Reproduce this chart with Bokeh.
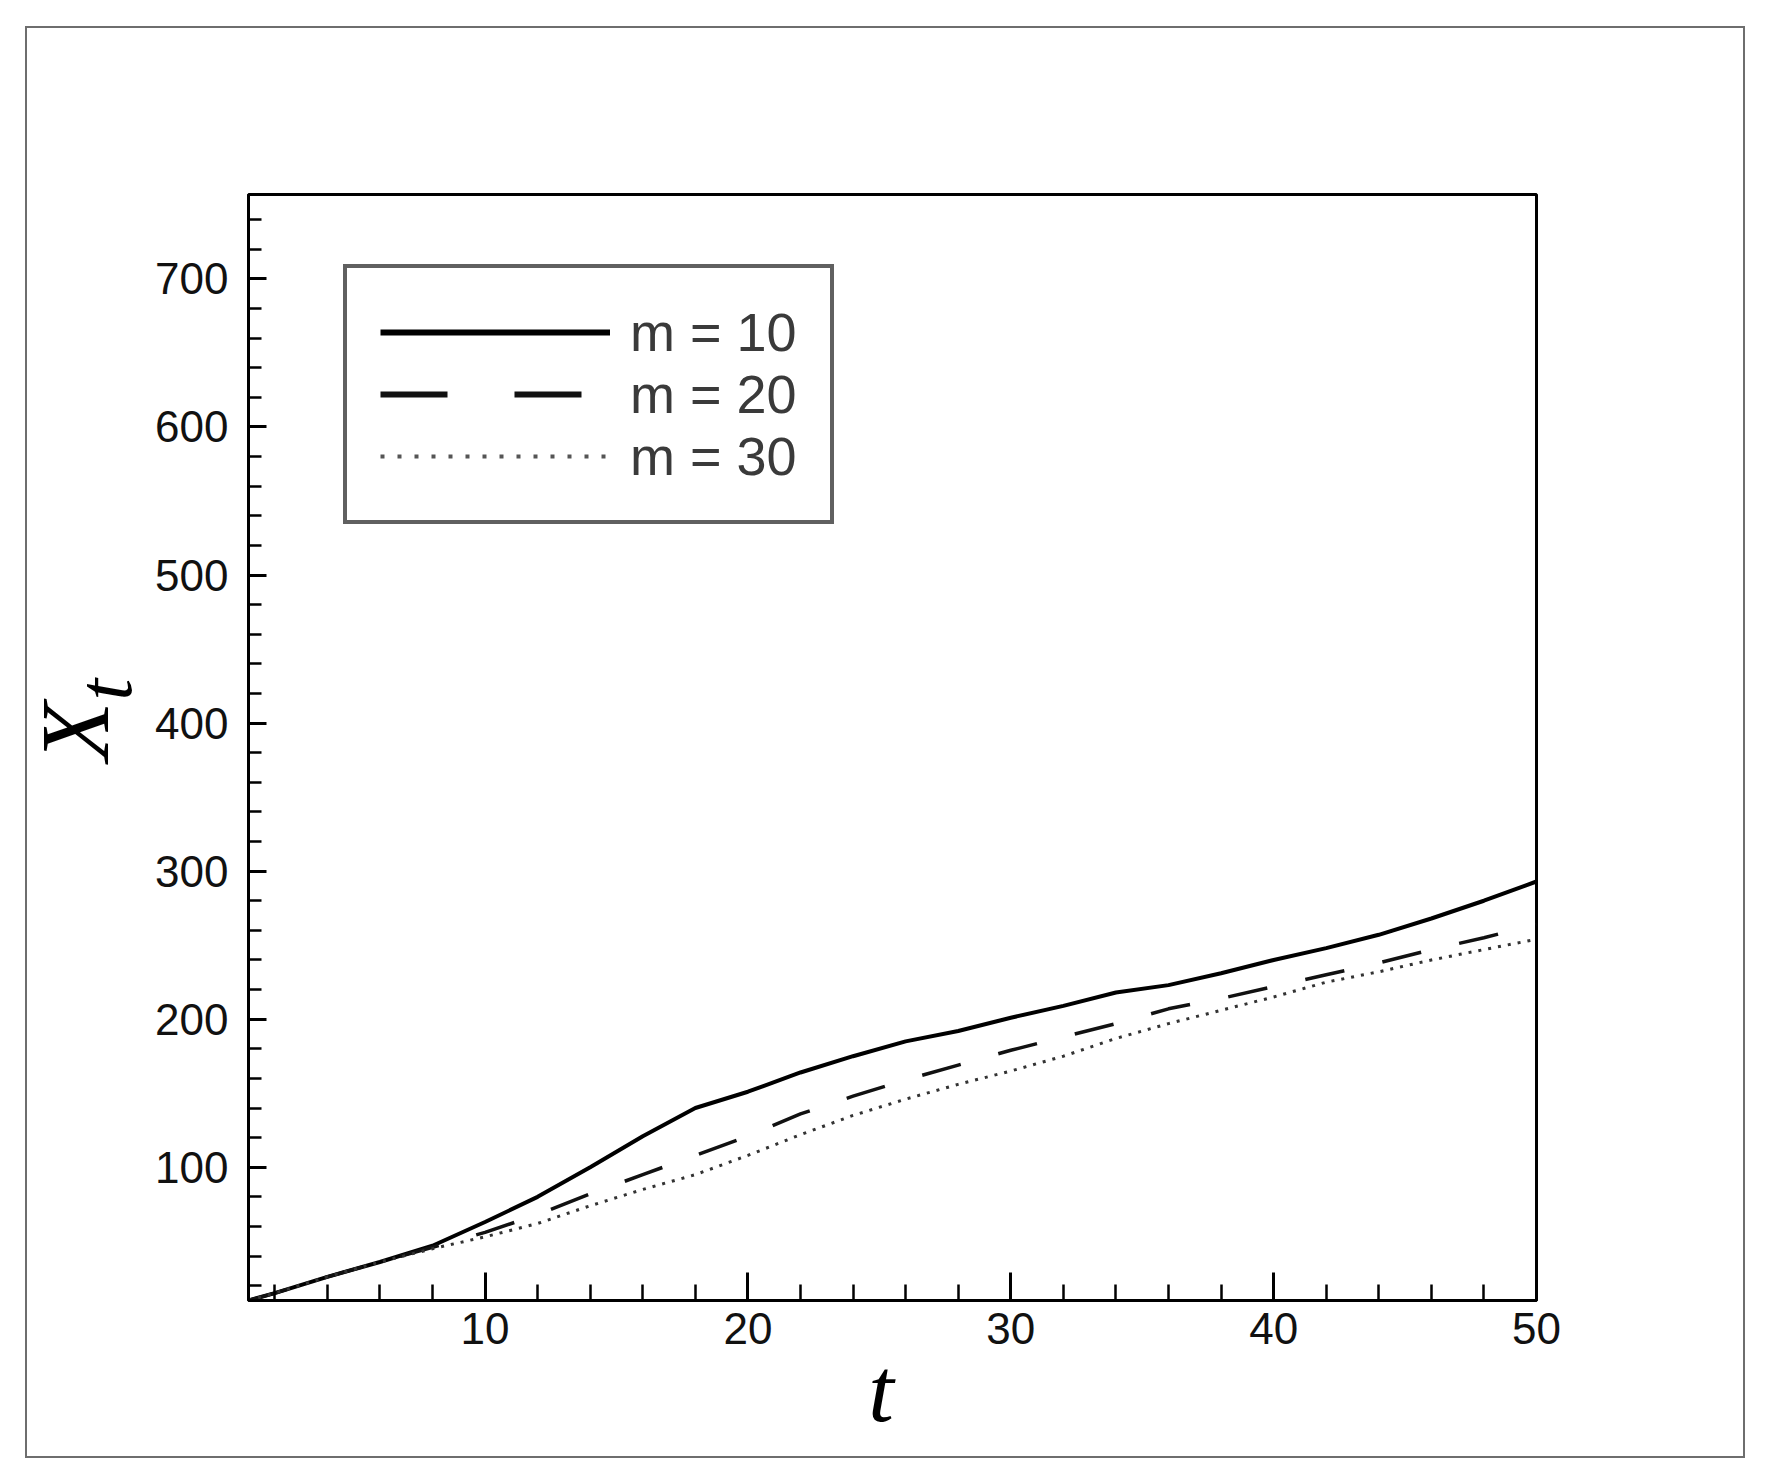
from bokeh.plotting import figure
from bokeh.models import Legend, LegendItem, FixedTicker, Range1d, Title
from bokeh.embed import file_html
from bokeh.resources import INLINE

# ---- data ----
t_vals = [1, 2, 4, 6, 8, 10, 12, 14, 16, 18, 20, 22, 24, 26, 28, 30,
          32, 34, 36, 38, 40, 42, 44, 46, 48, 50]
m10 = [10, 15, 26, 36, 47, 63, 80, 100, 121, 140, 151, 164, 175, 185, 192, 201,
       209, 218, 223, 231, 240, 248, 257, 268, 280, 293]
m20 = [10, 15, 26, 36, 46, 56, 68, 82, 95, 108, 121, 136, 148, 159, 169, 179,
       188, 197, 207, 214, 222, 230, 238, 247, 255, 264]
m30 = [10, 15, 26, 36, 45, 53, 62, 74, 85, 95, 108, 122, 135, 146, 156, 165,
       175, 187, 197, 206, 215, 225, 232, 240, 247, 254]

series_labels = ["m = 10", "m = 20", "m = 30"]
x_major = [10, 20, 30, 40, 50]
x_minor = list(range(2, 51, 2))
y_major = [100, 200, 300, 400, 500, 600, 700]
y_minor = list(range(20, 760, 20))

p = figure(
    output_backend="svg", toolbar_location=None,
    frame_width=1288, frame_height=1106,
    min_border_left=221, min_border_right=207,
    min_border_top=166, min_border_bottom=156,
    x_range=Range1d(1, 50), y_range=Range1d(10, 757),
    background_fill_color="white", border_fill_color="white",
)
p.styles = {"border": "2px solid #6e6e6e", "margin-left": "25px", "margin-top": "26px"}

p.grid.visible = False
p.outline_line_color = "black"
p.outline_line_width = 3
p.outline_line_alpha = 1.0

# x axis
xa = p.xaxis[0]
xa.ticker = FixedTicker(ticks=x_major, minor_ticks=x_minor)
xa.axis_line_width = 3
xa.major_tick_in = 28
xa.major_tick_out = 0
xa.minor_tick_in = 16
xa.minor_tick_out = 0
xa.major_tick_line_width = 3
xa.minor_tick_line_width = 2.5
xa.major_label_text_font = "Liberation Sans"
xa.major_label_text_font_size = "44px"
xa.major_label_text_color = "#111111"
xa.major_label_standoff = 12
xa.axis_label = "t\u00a0"
xa.axis_label_text_font = "Liberation Serif"
xa.axis_label_text_font_style = "italic"
xa.axis_label_text_font_size = "92px"
xa.axis_label_text_color = "black"
xa.axis_label_standoff = -8

# y axis
ya = p.yaxis[0]
ya.ticker = FixedTicker(ticks=y_major, minor_ticks=y_minor)
ya.axis_line_width = 3
ya.major_tick_in = 18
ya.major_tick_out = 0
ya.minor_tick_in = 13
ya.minor_tick_out = 0
ya.major_tick_line_width = 3
ya.minor_tick_line_width = 2.5
ya.major_label_text_font = "Liberation Sans"
ya.major_label_text_font_size = "44px"
ya.major_label_text_color = "#111111"
ya.major_label_standoff = 20

# y label "X" with subscript "t", as two stacked side titles
sub_t = Title(text="t", align="left", text_font="Liberation Serif",
              text_font_style="italic", text_font_size="78px",
              text_color="black", offset=600, standoff=10)
main_x = Title(text="X", align="left", text_font="Liberation Serif",
               text_font_style="italic", text_font_size="98px",
               text_color="black", offset=539, standoff=-150)
p.add_layout(sub_t, "left")
p.add_layout(main_x, "left")

# curves
p.line(t_vals, m10, line_color="black", line_width=4)
p.line(t_vals, m20, line_color="#111111", line_width=3.5, line_dash="40 39")
p.line(t_vals, m30, line_color="#333333", line_width=3, line_dash="3 7")

# legend samples (no visible points; only their line styles are used)
nan = [float("nan")]
l10 = p.line(nan, nan, line_color="black", line_width=6)
l20 = p.line(nan, nan, line_color="#111111", line_width=6, line_dash="67 67")
l30 = p.line(nan, nan, line_color="#555555", line_width=4, line_dash="4 13")

legend = Legend(
    items=[LegendItem(label=series_labels[0], renderers=[l10]),
           LegendItem(label=series_labels[1], renderers=[l20]),
           LegendItem(label=series_labels[2], renderers=[l30])],
    location=(95, 776),
    glyph_width=230, glyph_height=56, label_height=56,
    spacing=0, padding=33, margin=0, label_standoff=20,
    label_text_font="Liberation Sans", label_text_font_size="54px",
    label_text_color="#3a3a3a", label_text_baseline="middle",
    border_line_color="#606060", border_line_width=4, border_line_alpha=1.0,
    background_fill_color="white", background_fill_alpha=1.0,
)
p.add_layout(legend)

open("out.html", "w").write(file_html(p, INLINE))
